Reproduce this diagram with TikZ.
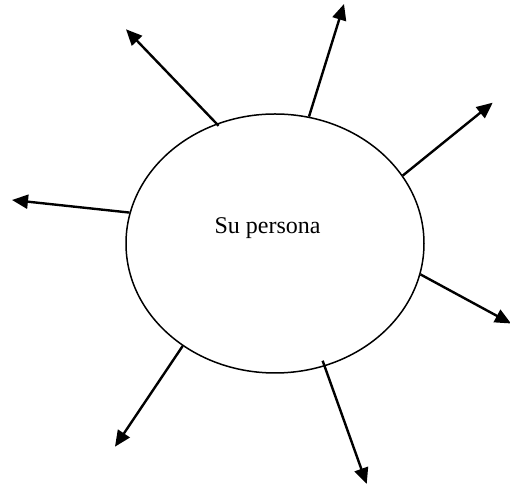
\documentclass[tikz,border=0pt]{standalone}
\usepackage{fontspec}
\setmainfont{Liberation Serif}
\usetikzlibrary{arrows.meta,shapes.geometric}
\begin{document}
\begin{tikzpicture}[x=0.5pt,y=-0.5pt,
  ray/.style={line width=1.2pt,-{Triangle[length=8pt,width=7pt]}},
  oval/.style={ellipse,draw,line width=0.75pt,inner sep=0pt,minimum width=149pt,minimum height=129.5pt}]
\useasboundingbox (0,0) rectangle (510,485);
\node[oval] (e) at (275,243.5) {};
\node[anchor=base,font=\fontsize{12pt}{14pt}\selectfont,inner sep=0pt] (t) at (267.5,234) {Su persona};
\coordinate (p1) at (126,29.3);
\coordinate (p2) at (344,4);
\coordinate (p3) at (492.7,102.7);
\coordinate (p4) at (12,200);
\coordinate (p5) at (511,323.5);
\coordinate (p6) at (366.7,484);
\coordinate (p7) at (115,446.7);
\draw[ray,shorten <=-1.5pt] (e.116) -- (p1);
\draw[ray] (e.75) -- (p2);
\draw[ray] (e.28.5) -- (p3);
\draw[ray] (e.168.5) -- (p4);
\draw[ray] (e.-12) -- (p5);
\draw[ray,shorten <=-3pt] (e.-68.5) -- (p6);
\draw[ray] (e.228.7) -- (p7);
\end{tikzpicture}
\end{document}
